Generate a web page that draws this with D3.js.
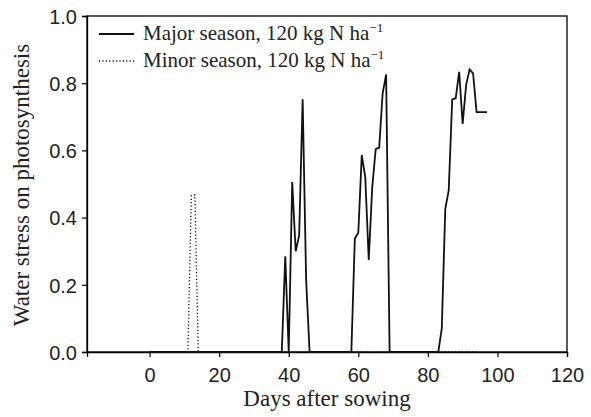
<!DOCTYPE html>
<html><head><meta charset="utf-8">
<script src="https://cdn.jsdelivr.net/npm/d3@7"></script>
<style>body{margin:0;background:#fff}</style>
</head><body>
<svg id="c" width="591" height="417"></svg>
<script>
const majorDays = [0,38,39,40,41,42,43,44,45,46,58,59,60,61,62,63,64,65,66,67,68,69,83,84,85,86,87,88,89,90,91,92,93,94,97];
const majorValues = [0,0,0.285,0,0.506,0.30,0.348,0.752,0.214,0,0,0.338,0.355,0.586,0.52,0.274,0.49,0.604,0.608,0.77,0.826,0,0,0.07,0.425,0.482,0.752,0.755,0.834,0.679,0.795,0.841,0.829,0.714,0.714];
const minorDays = [0,11,12,13,14,94];
const minorValues = [0,0,0.465,0.468,0,0];
const xTicks = [0,20,40,60,80,100,120];
const yTicks = [0,0.2,0.4,0.6,0.8,1.0];
const seriesNames = ["Major season, 120 kg N ha", "Minor season, 120 kg N ha"];

const svg = d3.select("#c");
const L=87, R=567, T=16, B=352;
const x = d3.scaleLinear().domain([-18,120]).range([L,R]);
const y = d3.scaleLinear().domain([0,1]).range([B,T]);

svg.append("rect").attr("x",L).attr("y",T).attr("width",R-L).attr("height",B-T)
  .attr("fill","none").attr("stroke","#000").attr("stroke-width",1.3);

const xa = svg.append("g").attr("transform",`translate(0,${B})`)
  .call(d3.axisBottom(x).tickValues(xTicks).tickSize(5).tickPadding(11).tickFormat(d3.format("d")));
const ya = svg.append("g").attr("transform",`translate(${L},0)`)
  .call(d3.axisLeft(y).tickValues(yTicks).tickSize(5).tickPadding(5).tickFormat(d3.format(".1f")));
[xa,ya].forEach(g=>{
  g.select(".domain").attr("stroke","#000").attr("stroke-width",1.3);
  g.selectAll(".tick line").attr("stroke","#000").attr("stroke-width",1.2);
  g.selectAll(".tick text").attr("font-family","Liberation Sans, Arial, sans-serif").attr("font-size",20).attr("fill","#222");
});
ya.selectAll(".tick text").attr("dy","0.36em");

const line = d3.line().x(d=>x(d[0])).y(d=>y(d[1]));
svg.append("path").datum(minorDays.map((d,i)=>[d,minorValues[i]]))
  .attr("d",line).attr("fill","none").attr("stroke","#111").attr("stroke-width",1.3).attr("stroke-dasharray","1.2,2.2");
svg.append("path").datum(majorDays.map((d,i)=>[d,majorValues[i]]))
  .attr("d",line).attr("fill","none").attr("stroke","#111").attr("stroke-width",1.8).attr("stroke-linejoin","miter");

const lg = svg.append("g");
const dashes = [null,"1.2,2.2"];
seriesNames.forEach((n,i)=>{
  const yy = 34 + i*27;
  lg.append("line").attr("x1",99).attr("x2",134).attr("y1",yy).attr("y2",yy)
    .attr("stroke","#111").attr("stroke-width",i?1.3:1.8).attr("stroke-dasharray",dashes[i]);
  const t = lg.append("text").attr("x",143).attr("y",yy+6)
    .attr("font-family","Liberation Serif, Times New Roman, serif").attr("font-size",21).attr("fill","#222");
  t.append("tspan").text(n);
  t.append("tspan").attr("dy",-8).attr("font-size",13).text("\u22121");
});

svg.append("text").attr("x",327).attr("y",406).attr("text-anchor","middle")
  .attr("font-family","Liberation Serif, Times New Roman, serif").attr("font-size",23).attr("fill","#222")
  .text("Days after sowing");
svg.append("text").attr("transform","translate(29,185) rotate(-90)").attr("text-anchor","middle")
  .attr("font-family","Liberation Serif, Times New Roman, serif").attr("font-size",23).attr("fill","#222")
  .text("Water stress on photosynthesis");
</script>
</body></html>
